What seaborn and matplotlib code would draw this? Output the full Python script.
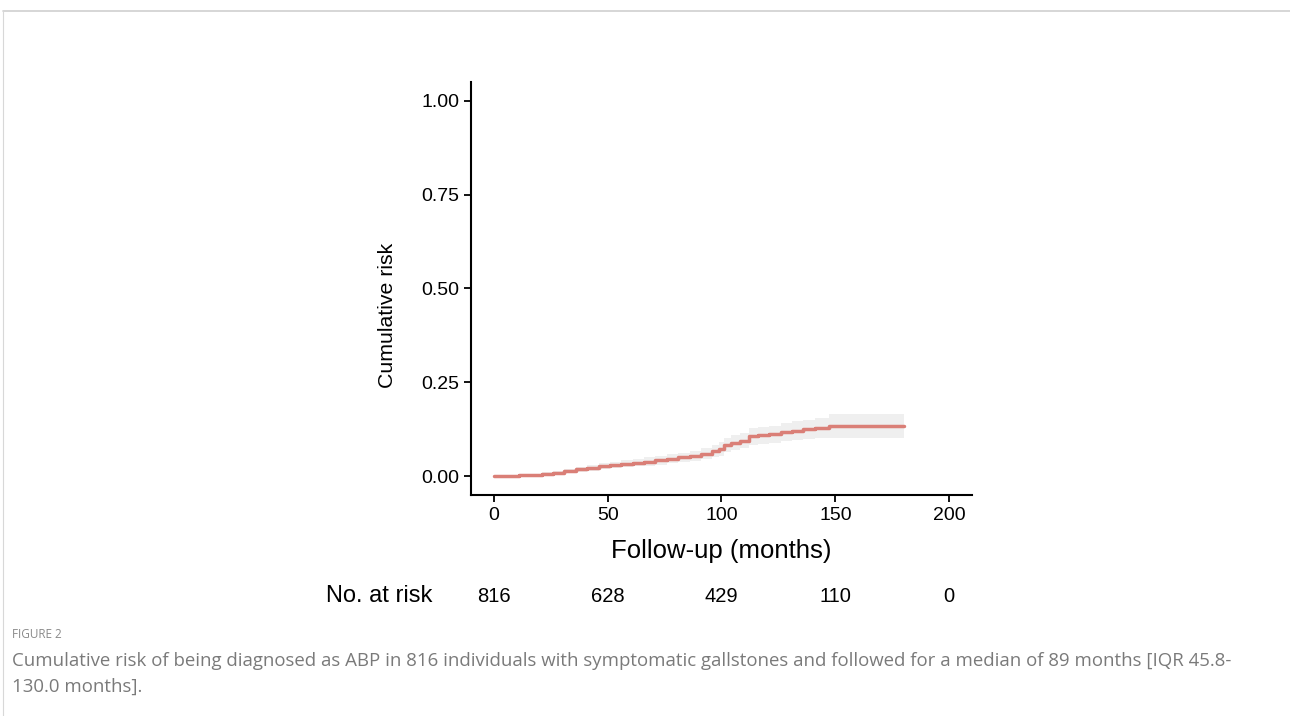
import numpy as np
import pandas as pd
import matplotlib
matplotlib.use("Agg")
import matplotlib.pyplot as plt
import matplotlib.transforms as mtransforms
import seaborn as sns
from matplotlib.lines import Line2D

# cumulative incidence curve
months = [0, 5, 11, 16, 21, 26, 31, 36, 41, 46, 51, 56, 61, 66, 71, 76, 81, 86, 91, 96, 99,
          101, 104, 108, 112, 116, 121, 126, 131, 136, 141, 147, 180]
risk = [0.000, 0.001, 0.003, 0.004, 0.006, 0.009, 0.013, 0.018, 0.022, 0.026, 0.030, 0.033,
        0.036, 0.039, 0.042, 0.046, 0.050, 0.054, 0.060, 0.066, 0.073, 0.083, 0.089, 0.095,
        0.106, 0.109, 0.112, 0.117, 0.121, 0.125, 0.128, 0.134, 0.134]
lower = [0.000, 0.000, 0.001, 0.002, 0.003, 0.005, 0.008, 0.012, 0.015, 0.018, 0.021, 0.024,
         0.026, 0.028, 0.031, 0.034, 0.037, 0.040, 0.045, 0.050, 0.055, 0.064, 0.069, 0.075,
         0.084, 0.087, 0.089, 0.093, 0.096, 0.099, 0.101, 0.102, 0.102]
upper = [0.000, 0.003, 0.006, 0.007, 0.010, 0.013, 0.018, 0.024, 0.029, 0.034, 0.039, 0.042,
         0.046, 0.050, 0.054, 0.058, 0.063, 0.068, 0.075, 0.082, 0.090, 0.102, 0.109, 0.116,
         0.128, 0.131, 0.135, 0.141, 0.146, 0.151, 0.155, 0.166, 0.166]

risk_ticks = [0, 50, 100, 150, 200]
at_risk = [816, 628, 429, 110, 0]

caption_title = "FIGURE 2"
caption_lines = [
    "Cumulative risk of being diagnosed as ABP in 816 individuals with symptomatic gallstones and followed for a median of 89 months [IQR 45.8-",
    "130.0 months].",
]

df = pd.DataFrame({"months": months, "risk": risk, "lower": lower, "upper": upper})

sns.set_style("ticks")
plt.rcParams["font.family"] = ["Liberation Sans", "DejaVu Sans"]
plt.rcParams["text.color"] = "black"
plt.rcParams["axes.labelcolor"] = "black"

fig = plt.figure(figsize=(12.9, 7.16), dpi=100)
ax = fig.add_axes([0.3651, 0.3087, 0.3884, 0.5768])

ax.fill_between(df["months"], df["lower"], df["upper"], step="post",
                color="#efefef", linewidth=0)
sns.lineplot(data=df, x="months", y="risk", ax=ax, drawstyle="steps-post",
             color="#da7f77", linewidth=2.5, estimator=None)

ax.set_xlim(-10, 210)
ax.set_ylim(-0.05, 1.05)
ax.set_xticks(risk_ticks)
ax.set_yticks([0, 0.25, 0.5, 0.75, 1.0])
ax.set_yticklabels(["0.00", "0.25", "0.50", "0.75", "1.00"])
ax.tick_params(labelsize=14, length=5, width=1.3, color="black", labelcolor="black")
ax.set_xlabel("Follow-up (months)", fontsize=18.5, va="center")
ax.xaxis.set_label_coords(0.5, -0.136)
ax.set_ylabel("Cumulative risk", fontsize=15.3, va="center")
ax.yaxis.set_label_coords(-0.166, 0.436)
for s in ["top", "right"]:
    ax.spines[s].set_visible(False)
for s in ["left", "bottom"]:
    ax.spines[s].set_linewidth(1.5)
    ax.spines[s].set_color("black")

# number at risk row
row_trans = mtransforms.blended_transform_factory(ax.transData, fig.transFigure)
for t, n in zip(risk_ticks, at_risk):
    fig.text(t, 1 - 596 / 716, str(n), transform=row_trans,
             ha="center", va="center", fontsize=14.5)
fig.text(432 / 1290, 1 - 596 / 716, "No. at risk", ha="right", va="center", fontsize=17)

# caption
cap_font = ["Open Sans", "DejaVu Sans"]
fig.text(12 / 1290, 1 - 635 / 716, caption_title, ha="left", va="center", fontsize=8.5,
         color="#8a8a8a", family=cap_font)
for i, line in enumerate(caption_lines):
    fig.text(12 / 1290, 1 - (661 + 26 * i) / 716, line, ha="left", va="center", fontsize=13.4,
             color="#7a7a7a", family=cap_font)

# page frame
fig.add_artist(Line2D([3 / 1290, 1], [1 - 10.5 / 716] * 2, transform=fig.transFigure,
                      color="#d0d0d0", linewidth=1.2))
fig.add_artist(Line2D([3 / 1290] * 2, [0, 1 - 10.5 / 716], transform=fig.transFigure,
                      color="#d8d8d8", linewidth=0.8))

fig.savefig("out.png", dpi=100)
